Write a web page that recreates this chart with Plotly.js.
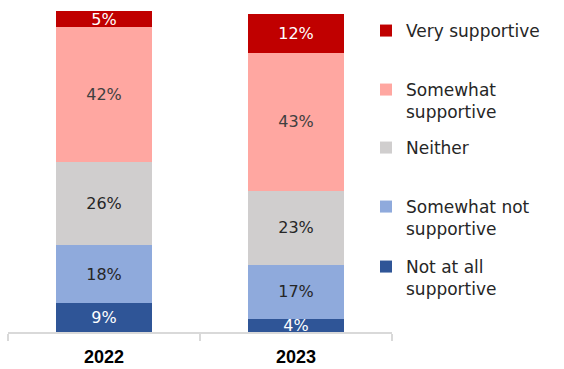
<!DOCTYPE html>
<html>
<head>
<meta charset="utf-8">
<script src="https://cdn.plot.ly/plotly-3.0.1.min.js"></script>
<style>html,body{margin:0;padding:0;background:#fff;}#chart{width:564px;height:369px;}</style>
</head>
<body>
<div id="chart"></div>
<script>
var years = ['2022', '2023'];
var notAtAll = [9, 4];
var somewhatNot = [18, 17];
var neither = [26, 23];
var somewhatSupportive = [42, 43];
var verySupportive = [5, 12];

var seriesNames = ['Not at all<br>supportive', 'Somewhat not<br>supportive', 'Neither', 'Somewhat<br>supportive', 'Very supportive'];
var seriesValues = [notAtAll, somewhatNot, neither, somewhatSupportive, verySupportive];
var seriesColors = ['#2F5597', '#8FAADC', '#D0CECE', '#FFA7A1', '#C00000'];
var labelColors = ['#ffffff', '#262626', '#262626', '#404040', '#ffffff'];
var legendIds = ['legend5', 'legend4', 'legend3', 'legend2', 'legend'];

var traces = seriesValues.map(function (vals, i) {
  return {
    type: 'bar',
    x: years,
    y: vals,
    name: seriesNames[i],
    legend: legendIds[i],
    marker: {color: seriesColors[i], line: {width: 0}},
    text: vals.map(function (v) { return v + '%'; }),
    textposition: 'inside',
    insidetextanchor: 'middle',
    textangle: 0,
    cliponaxis: false,
    constraintext: 'none',
    textfont: {family: 'DejaVu Sans', size: 16, color: labelColors[i]},
    hoverinfo: 'skip'
  };
});

function leg(yPx) {
  return {
    xref: 'container', yref: 'container',
    x: 366 / 564, y: 1 - yPx / 369,
    xanchor: 'left', yanchor: 'top',
    valign: 'top',
    bgcolor: 'rgba(0,0,0,0)', borderwidth: 0,
    font: {family: 'DejaVu Sans', size: 17, color: '#262626'},
    itemclick: false, itemdoubleclick: false
  };
}

var layout = {
  width: 564, height: 369,
  margin: {l: 8, r: 172, t: 11, b: 37, autoexpand: false},
  paper_bgcolor: '#ffffff', plot_bgcolor: '#ffffff',
  barmode: 'stack',
  bargap: 0.5,
  uniformtext: {mode: 'show', minsize: 16},
  showlegend: true,
  legend: leg(13),
  legend2: leg(72),
  legend3: leg(130),
  legend4: leg(189),
  legend5: leg(249),
  xaxis: {
    type: 'category',
    range: [-0.5, 1.5],
    showline: true, linecolor: '#d9d9d9', linewidth: 1.5,
    ticks: 'outside', tickson: 'boundaries', ticklen: 7, tickcolor: '#d9d9d9', tickwidth: 1.5,
    ticklabelstandoff: 8,
    tickfont: {family: 'Liberation Sans', size: 18, color: '#000000', weight: 'bold'},
    showgrid: false, zeroline: false, fixedrange: true
  },
  yaxis: {visible: false, range: [0, 100], fixedrange: true}
};

Plotly.newPlot('chart', traces, layout, {staticPlot: true, displayModeBar: false});
</script>
</body>
</html>
